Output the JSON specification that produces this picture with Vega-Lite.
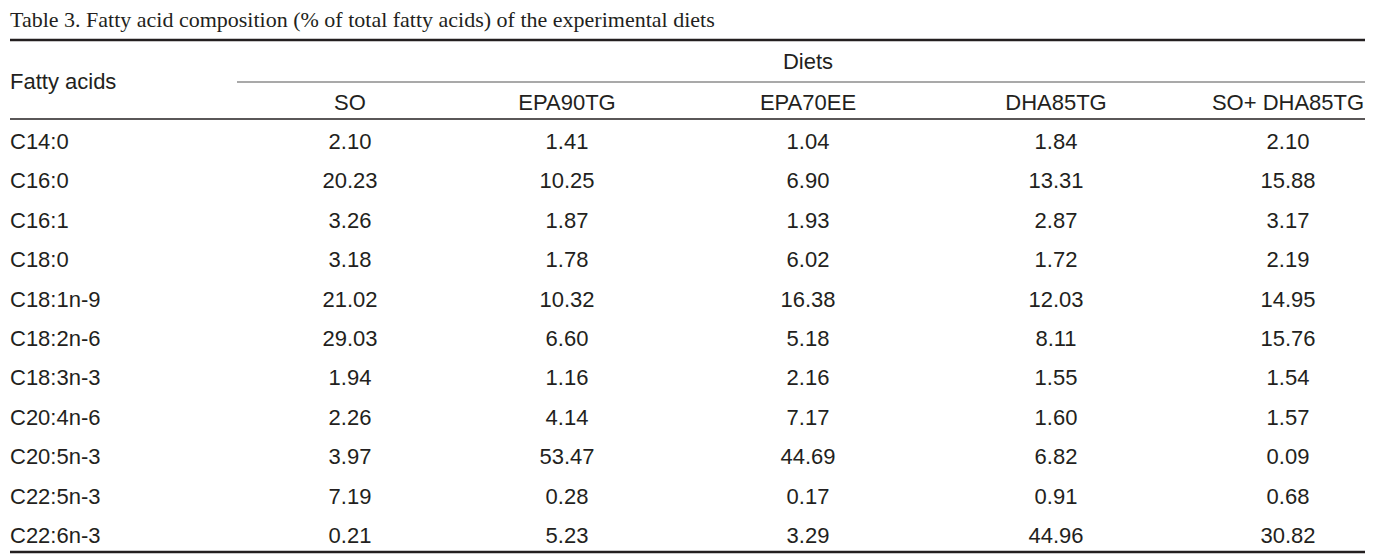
{
  "$schema": "https://vega.github.io/schema/vega-lite/v6.json",
  "width": 1384,
  "height": 556,
  "autosize": {"type": "fit", "contains": "padding"},
  "padding": 0,
  "background": "white",
  "config": {"view": {"stroke": null}, "text": {"font": "Liberation Sans", "fontSize": 22, "color": "#231f20"}},
  "datasets": {
    "diets": [
      {"diet": "SO", "col": 1},
      {"diet": "EPA90TG", "col": 2},
      {"diet": "EPA70EE", "col": 3},
      {"diet": "DHA85TG", "col": 4},
      {"diet": "SO+ DHA85TG", "col": 5}
    ],
    "acids": [
      {"acid": "C14:0", "row": 1, "SO": 2.10, "EPA90TG": 1.41, "EPA70EE": 1.04, "DHA85TG": 1.84, "SO+ DHA85TG": 2.10},
      {"acid": "C16:0", "row": 2, "SO": 20.23, "EPA90TG": 10.25, "EPA70EE": 6.90, "DHA85TG": 13.31, "SO+ DHA85TG": 15.88},
      {"acid": "C16:1", "row": 3, "SO": 3.26, "EPA90TG": 1.87, "EPA70EE": 1.93, "DHA85TG": 2.87, "SO+ DHA85TG": 3.17},
      {"acid": "C18:0", "row": 4, "SO": 3.18, "EPA90TG": 1.78, "EPA70EE": 6.02, "DHA85TG": 1.72, "SO+ DHA85TG": 2.19},
      {"acid": "C18:1n-9", "row": 5, "SO": 21.02, "EPA90TG": 10.32, "EPA70EE": 16.38, "DHA85TG": 12.03, "SO+ DHA85TG": 14.95},
      {"acid": "C18:2n-6", "row": 6, "SO": 29.03, "EPA90TG": 6.60, "EPA70EE": 5.18, "DHA85TG": 8.11, "SO+ DHA85TG": 15.76},
      {"acid": "C18:3n-3", "row": 7, "SO": 1.94, "EPA90TG": 1.16, "EPA70EE": 2.16, "DHA85TG": 1.55, "SO+ DHA85TG": 1.54},
      {"acid": "C20:4n-6", "row": 8, "SO": 2.26, "EPA90TG": 4.14, "EPA70EE": 7.17, "DHA85TG": 1.60, "SO+ DHA85TG": 1.57},
      {"acid": "C20:5n-3", "row": 9, "SO": 3.97, "EPA90TG": 53.47, "EPA70EE": 44.69, "DHA85TG": 6.82, "SO+ DHA85TG": 0.09},
      {"acid": "C22:5n-3", "row": 10, "SO": 7.19, "EPA90TG": 0.28, "EPA70EE": 0.17, "DHA85TG": 0.91, "SO+ DHA85TG": 0.68},
      {"acid": "C22:6n-3", "row": 11, "SO": 0.21, "EPA90TG": 5.23, "EPA70EE": 3.29, "DHA85TG": 44.96, "SO+ DHA85TG": 30.82}
    ]
  },
  "layer": [
    {
      "data": {"values": [{"t": "Table 3. Fatty acid composition (% of total fatty acids) of the experimental diets"}]},
      "mark": {"type": "text", "align": "left", "baseline": "middle", "font": "Liberation Serif", "fontSize": 22},
      "encoding": {
        "x": {"datum": 0, "type": "quantitative", "axis": null, "scale": {"domain": [0, 0.7, 1, 2, 3, 4, 5, 6], "range": [10, 237, 350, 567, 808, 1056, 1288, 1365], "nice": false, "zero": false}},
        "y": {"datum": -2.3, "type": "quantitative", "axis": null, "scale": {"domain": [-2.3, -1.5, -1, -0.5, 0, 0.5, 1, 11, 11.5], "range": [20, 40, 62, 82, 103, 119, 142, 536, 552], "nice": false, "zero": false}},
        "text": {"field": "t"}
      }
    },
    {
      "data": {"values": [{"w": 2.5, "y": -1.5}, {"w": 2.5, "y": 11.5}]},
      "mark": {"type": "rule", "color": "#231f20", "strokeWidth": 2.5},
      "encoding": {
        "x": {"datum": 0, "type": "quantitative"},
        "x2": {"datum": 6},
        "y": {"field": "y", "type": "quantitative"}
      }
    },
    {
      "data": {"values": [{"y": 0.5}]},
      "mark": {"type": "rule", "color": "#231f20", "strokeWidth": 1.3},
      "encoding": {
        "x": {"datum": 0, "type": "quantitative"},
        "x2": {"datum": 6},
        "y": {"field": "y", "type": "quantitative"}
      }
    },
    {
      "data": {"values": [{"y": -0.5}]},
      "mark": {"type": "rule", "color": "#8c8c8c", "strokeWidth": 1.3},
      "encoding": {
        "x": {"datum": 0.7, "type": "quantitative"},
        "x2": {"datum": 6},
        "y": {"field": "y", "type": "quantitative"}
      }
    },
    {
      "data": {"values": [{"t": "Fatty acids", "y": -0.5, "x": 0}]},
      "mark": {"type": "text", "align": "left", "baseline": "middle"},
      "encoding": {
        "x": {"field": "x", "type": "quantitative"},
        "y": {"field": "y", "type": "quantitative"},
        "text": {"field": "t"}
      }
    },
    {
      "data": {"values": [{"t": "Diets", "y": -1, "x": 3}]},
      "mark": {"type": "text", "align": "center", "baseline": "middle"},
      "encoding": {
        "x": {"field": "x", "type": "quantitative"},
        "y": {"field": "y", "type": "quantitative"},
        "text": {"field": "t"}
      }
    },
    {
      "data": {"name": "diets"},
      "mark": {"type": "text", "align": "center", "baseline": "middle"},
      "encoding": {
        "x": {"field": "col", "type": "quantitative"},
        "y": {"datum": 0, "type": "quantitative"},
        "text": {"field": "diet"}
      }
    },
    {
      "data": {"name": "acids"},
      "mark": {"type": "text", "align": "left", "baseline": "middle"},
      "encoding": {
        "x": {"datum": 0, "type": "quantitative"},
        "y": {"field": "row", "type": "quantitative"},
        "text": {"field": "acid"}
      }
    },
    {
      "data": {"name": "acids"},
      "transform": [
        {"fold": ["SO", "EPA90TG", "EPA70EE", "DHA85TG", "SO+ DHA85TG"], "as": ["diet", "value"]},
        {"lookup": "diet", "from": {"data": {"name": "diets"}, "key": "diet", "fields": ["col"]}}
      ],
      "mark": {"type": "text", "align": "center", "baseline": "middle"},
      "encoding": {
        "x": {"field": "col", "type": "quantitative"},
        "y": {"field": "row", "type": "quantitative"},
        "text": {"field": "value", "type": "quantitative", "format": ".2f"}
      }
    }
  ]
}
